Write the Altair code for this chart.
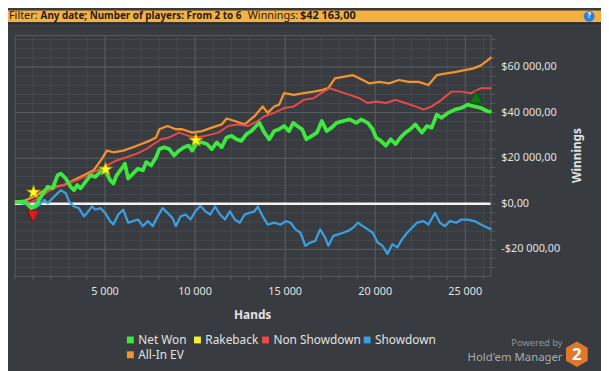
import altair as alt
import pandas as pd

# ---------------- data ----------------
net_hands = [0, 547, 911, 1184, 1458, 1822, 2095, 2369, 2551, 2824, 3097, 3280, 3462, 3644, 3917,
             4191, 4464, 4737, 5011, 5284, 5466, 5648, 5922, 6104, 6286, 6559, 6833, 7106, 7288,
             7561, 7835, 8017, 8290, 8563, 8837, 9110, 9383, 9657, 9839, 10112, 10385, 10659,
             10932, 11205, 11479, 11752, 12025, 12299, 12572, 12845, 13118, 13392, 13574, 13847,
             14121, 14394, 14667, 14940, 15214, 15451, 15669, 15943, 16179, 16489, 16762, 17036,
             17309, 17582, 17856, 18220, 18584, 18949, 19222, 19587, 19860, 20042, 20315, 20589,
             20862, 21135, 21409, 21682, 21955, 22228, 22593, 22866, 23139, 23413, 23686, 24050,
             24415, 24779, 25144, 25508, 25872, 26237, 26455]
net_vals = [700, 1000, -1900, -400, 3200, 7500, 6800, 12500, 13200, 11100,
            7500, 6000, 8200, 6800, 9600, 12500, 11800, 14000, 14700, 10400,
            8900, 12500, 15400, 17600, 11100, 13200, 15400, 14700, 18300, 16800,
            20400, 24000, 24800, 24000, 21200, 23300, 24800, 25500, 23300, 26900,
            26900, 26200, 24000, 26900, 24800, 29100, 29800, 28300, 27600, 30500,
            31900, 34100, 35500, 31200, 28300, 31900, 32700, 34100, 31900, 35500,
            34100, 32700, 28300, 29800, 31200, 36300, 31900, 33400, 35500, 36300,
            37000, 35500, 37000, 35500, 32700, 29100, 27600, 25500, 28300, 26200,
            29100, 31200, 32700, 34800, 31200, 34100, 33400, 39100, 37700, 39900,
            41300, 42000, 43500, 42700, 42000, 40600, 40300]

nsd_hands = [0, 911, 1458, 1822, 2369, 2915, 3462, 4008, 4555, 5102, 5648, 6195, 6741, 7288,
             7835, 8108, 8563, 9110, 9657, 10021, 10568, 11296, 11843, 12390, 12936, 13483,
             13847, 14394, 14940, 15487, 16034, 16580, 17127, 17491, 18038, 18584, 19131,
             19587, 20042, 20589, 21135, 21682, 22228, 22684, 23139, 23686, 24233, 24779,
             25326, 25872, 26455]
nsd_vals = [700, 700, 3200, 5300, 7500, 8900, 10400, 12500, 14700, 16800,
            19000, 20400, 21900, 24000, 26900, 28300, 29100, 31200, 29800, 29100,
            29800, 31200, 34100, 34800, 34100, 36300, 38400, 39900, 42000, 42700,
            45600, 46300, 49200, 50700, 49200, 47800, 46300, 44200, 44900, 44200,
            45600, 44200, 42700, 41300, 42700, 45600, 49200, 49200, 48500, 50700,
            50700]

ev_hands = [0, 547, 1093, 1640, 2186, 2733, 3280, 3826, 4373, 4828, 5102, 5466, 6013, 6559,
            7015, 7470, 7835, 8017, 8472, 8928, 9292, 9839, 10385, 10932, 11479, 11752, 12207,
            12754, 13301, 13756, 14029, 14394, 14667, 14940, 15487, 16034, 16580, 17036, 17400,
            17765, 18220, 18767, 19313, 19678, 20224, 20771, 21317, 21864, 22411, 22957, 23413,
            23868, 24415, 24961, 25417, 25872, 26237, 26455]
ev_vals = [1000, 1400, 3200, 6000, 7500, 8200, 10400, 12500, 14700, 19700,
           23300, 22600, 23300, 24800, 26200, 27600, 29100, 32700, 34100, 32700,
           32700, 31200, 31900, 33400, 34800, 37400, 36300, 34800, 38400, 42700,
           39900, 42700, 43500, 48500, 47800, 48500, 49200, 49900, 50700, 55000,
           55700, 56400, 54300, 52800, 53500, 52800, 54300, 53500, 53500, 52100,
           56400, 57100, 57800, 58600, 59300, 60700, 62900, 64300]

sd_hands = [0, 364, 729, 1093, 1367, 1640, 1822, 2004, 2278, 2551, 2824, 3006, 3280, 3553,
            3826, 4008, 4282, 4464, 4737, 5011, 5284, 5466, 5739, 6013, 6286, 6559, 6833,
            7106, 7379, 7652, 7926, 8199, 8472, 8746, 8928, 9201, 9474, 9748, 10021, 10294,
            10568, 10841, 11114, 11388, 11661, 11934, 12207, 12481, 12754, 13027, 13301,
            13483, 13756, 14029, 14394, 14758, 15032, 15305, 15578, 15851, 16125, 16398,
            16671, 16945, 17218, 17400, 17673, 17947, 18220, 18493, 18767, 19040, 19313,
            19587, 19860, 20133, 20406, 20680, 20953, 21226, 21500, 21773, 22046, 22320,
            22684, 22957, 23322, 23595, 23868, 24142, 24506, 24779, 25144, 25508, 25872,
            26237, 26455]
sd_vals = [700, 300, -400, -1900, -400, 1700, 300, 1700, 3900, 6000,
           4600, 1000, -1200, -1900, -5500, -4000, -1200, -2600, -1900, -4000,
           -7600, -9100, -4700, -2600, -8300, -7600, -6900, -9800, -7600, -9800,
           -5500, -1900, -4000, -6200, -9800, -5500, -4700, -6900, -3300, -900,
           -3300, -4700, -1200, -4700, -6900, -3300, -6900, -8300, -4700, -4000,
           -3300, -1200, -5500, -9100, -8300, -9100, -7600, -8300, -11200, -12700,
           -18400, -17000, -16300, -11200, -14800, -18400, -14100, -13400, -12700, -11900,
           -10500, -8300, -9800, -11200, -12700, -17000, -18400, -22000, -17700, -19100,
           -15500, -12700, -10500, -8300, -7600, -9100, -4000, -8300, -9800, -7600,
           -8300, -6900, -6900, -7600, -9100, -10500, -11200]

rake_hands = [1030, 5030, 10040]
rake_vals = [4700, 14900, 27600]
low_hands = [984]
low_vals = [-5000]
high_hands = [25600]
high_vals = [47200]

series_names = ["Net Won", "Rakeback", "Non Showdown", "Showdown", "All-In EV"]
series_colors = ["#3ee83e", "#f4f03a", "#e84a4a", "#3a9ee0", "#f39330"]

x_ticks = [0, 1000, 2000, 3000, 4000, 5000, 6000, 7000, 8000, 9000, 10000, 11000, 12000,
           13000, 14000, 15000, 16000, 17000, 18000, 19000, 20000, 21000, 22000, 23000,
           24000, 25000, 26000]
x_major = [5000, 10000, 15000, 20000, 25000]
x_labels = ["5 000", "10 000", "15 000", "20 000", "25 000"]
y_ticks = [-28000, -24000, -20000, -16000, -12000, -8000, -4000, 0, 4000, 8000, 12000,
           16000, 20000, 24000, 28000, 32000, 36000, 40000, 44000, 48000, 52000, 56000,
           60000, 64000, 68000, 72000]
y_major = [-20000, 0, 20000, 40000, 60000]
y_labels = ["-$20 000,00", "$0,00", "$20 000,00", "$40 000,00", "$60 000,00"]
x_title = "Hands"
y_title = "Winnings"

header_filter = "Filter:"
header_bold = "Any date; Number of players: From 2 to 6"
header_win = "Winnings:"
header_total = "$42 163,00"

# ---------------- layout / styling (not data) ----------------
BG = "#383b3f"
MINOR = "#45494d"
MAJOR = "#575b5f"
TXT = "#e2e2e2"
FONT = "Noto Sans"
W, H = 482, 244
legend_pos = [(117, 309), (185, 309), (254, 309), (357, 309), (117, 324)]  # view pixels

rows = []
for name, hs, vs in [("Net Won", net_hands, net_vals), ("Non Showdown", nsd_hands, nsd_vals),
                     ("Showdown", sd_hands, sd_vals), ("All-In EV", ev_hands, ev_vals)]:
    for h, v in zip(hs, vs):
        rows.append({"series": name, "hands": h, "value": v})
df = pd.DataFrame(rows)

xs = alt.Scale(domain=[0, 26400], nice=False, zero=False)
ys = alt.Scale(domain=[-31600, 74000], nice=False, zero=False)
one = pd.DataFrame({"k": [0]})


def X(f="hands:Q"):
    return alt.X(f, scale=xs, axis=None)


def Y(f="value:Q"):
    return alt.Y(f, scale=ys, axis=None)


xt_df = pd.DataFrame({"hands": x_ticks})
yt_df = pd.DataFrame({"value": y_ticks})
xmaj_df = pd.DataFrame({"hands": x_major, "label": x_labels})
ymaj_df = pd.DataFrame({"value": y_major, "label": y_labels})

vmin = alt.Chart(xt_df).mark_rule(color=MINOR, strokeWidth=1).encode(x=X())
hmin = alt.Chart(yt_df).mark_rule(color=MINOR, strokeWidth=1).encode(y=Y())
vmaj = alt.Chart(xmaj_df).mark_rule(color=MAJOR, strokeWidth=1).encode(x=X())
hmaj = alt.Chart(ymaj_df).mark_rule(color=MAJOR, strokeWidth=1).encode(y=Y())
xtick = alt.Chart(xt_df).mark_rule(color=MAJOR, strokeWidth=1).encode(
    x=X(), y=alt.value(H), y2=alt.value(H + 4))
ytick = alt.Chart(yt_df).mark_rule(color=MAJOR, strokeWidth=1).encode(
    y=Y(), x=alt.value(W), x2=alt.value(W + 5))
xlab = alt.Chart(xmaj_df).mark_text(font=FONT, fontSize=11, color=TXT, baseline="middle",
                                    align="center").encode(x=X(), y=alt.value(H + 16), text="label:N")
ylab = alt.Chart(ymaj_df).mark_text(font=FONT, fontSize=11, color=TXT, baseline="middle",
                                    align="left").encode(y=Y(), x=alt.value(W + 11), text="label:N")
zero = alt.Chart(pd.DataFrame({"value": [0]})).mark_rule(color="#f4f4f4", strokeWidth=2.5).encode(y=Y())


def line(name, color, width):
    return alt.Chart(df).transform_filter(alt.datum.series == name).mark_line(
        color=color, strokeWidth=width, strokeJoin="round").encode(
        x=X(), y=Y(), order="hands:Q")


sd_line = line("Showdown", "#3a9ee0", 2.3)
ev_line = line("All-In EV", "#f39330", 2.3)
nsd_line = line("Non Showdown", "#e84a4a", 2.0)
net_line = line("Net Won", "#3ee83e", 3.8)


def glyph(hs, vs, ch, size, fill, stroke, dy=0):
    return alt.Chart(pd.DataFrame({"hands": hs, "value": vs})).mark_text(
        text=ch, font="DejaVu Sans", fontSize=size, color=fill, stroke=stroke, strokeWidth=0.6,
        align="center", baseline="middle", dy=dy).encode(x=X(), y=Y())


stars = glyph(rake_hands, rake_vals, "\u2605", 18, "#ffff22", "#a89c00", 0)
low = glyph(low_hands, low_vals, "\u25bc", 15, "#e31b1b", "#8a0000", 0)
high = glyph(high_hands, high_vals, "\u25b2", 16, "#0c7a0c", "#064a06", 0)


def txt(s, x, y, size, weight="normal", color=TXT, align="left", font=FONT, angle=0):
    return alt.Chart(one).mark_text(text=s, align=align, baseline="middle", fontSize=size,
                                    fontWeight=weight, color=color, font=font, angle=angle).encode(
        x=alt.value(x), y=alt.value(y))


xtitle = txt(x_title, W / 2, 284, 12, "bold", TXT, "center")
ytitle = txt(y_title, 570, H / 2, 12, "bold", TXT, "center", angle=270)

header = alt.Chart(one).mark_rect(color="#f5b042").encode(
    x=alt.value(-7), x2=alt.value(594), y=alt.value(-25), y2=alt.value(-13))
header_line = alt.Chart(one).mark_rect(color="#2a2d30").encode(
    x=alt.value(-7), x2=alt.value(594), y=alt.value(-13), y2=alt.value(-11))
help_icon = alt.Chart(one).mark_rect(color="#2f7fd6", cornerRadius=5.5).encode(
    x=alt.value(576.5), x2=alt.value(587.5), y=alt.value(-24.5), y2=alt.value(-13.5))
help_q = txt("?", 582, -19, 8, "bold", "#ffffff", "center")

h1 = txt(header_filter, -6, -19, 11, "normal", "#1c1c1c")
h2 = txt(header_bold, 26, -19, 10, "bold", "#1c1c1c")
h3 = txt(header_win, 236, -19, 11, "normal", "#1c1c1c")
h4 = txt(header_total, 289, -19, 11, "bold", "#1c1c1c")

# legend (square symbols)
leg_df = pd.DataFrame({
    "name": series_names, "color": series_colors,
    "x1": [p[0] - 3.5 for p in legend_pos], "x2": [p[0] + 3.5 for p in legend_pos],
    "y1": [p[1] - 3.5 for p in legend_pos], "y2": [p[1] + 3.5 for p in legend_pos],
    "tx": [p[0] + 8 for p in legend_pos], "ty": [p[1] for p in legend_pos]})
leg_sq = alt.Chart(leg_df).mark_rect().encode(
    x=alt.X("x1:Q", scale=None), x2="x2:Q", y=alt.Y("y1:Q", scale=None), y2="y2:Q",
    color=alt.Color("color:N", scale=None))
leg_tx = alt.Chart(leg_df).mark_text(align="left", baseline="middle", fontSize=12, font=FONT,
                                     color=TXT).encode(
    x=alt.X("tx:Q", scale=None), y=alt.Y("ty:Q", scale=None), text="name:N")

# Hold'em Manager badge
hex_df = pd.DataFrame({"px": [558.5, 569.5, 580.5], "py": [317, 310.5, 317],
                       "py2": [330, 336.5, 330]})
hexagon = alt.Chart(hex_df).mark_area(color="#e0782a", opacity=1).encode(
    x=alt.X("px:Q", scale=None), y=alt.Y("py:Q", scale=None), y2="py2:Q")
hex2 = txt("2", 569.5, 324, 17, "bold", "#ffffff", "center")
powered = txt("Powered by", 555, 312, 9.5, "normal", "#8f9296", "right")
hem = txt("Hold'em Manager", 555, 327, 11.5, "normal", "#a9acaf", "right")

chart = alt.layer(
    vmin, hmin, vmaj, hmaj, xtick, ytick, xlab, ylab, xtitle, ytitle, zero,
    sd_line, ev_line, nsd_line, net_line, stars, low, high,
    header, header_line, help_icon, help_q, h1, h2, h3, h4,
    leg_sq, leg_tx, hexagon, hex2, powered, hem
).properties(
    width=W, height=H,
    autosize=alt.AutoSizeParams(type="none"),
    padding={"left": 7, "top": 25, "right": 112, "bottom": 94},
).configure(background=BG).configure_view(stroke=MAJOR, strokeWidth=1)

chart.save("out.html", embed_options={"renderer": "svg", "actions": False})
